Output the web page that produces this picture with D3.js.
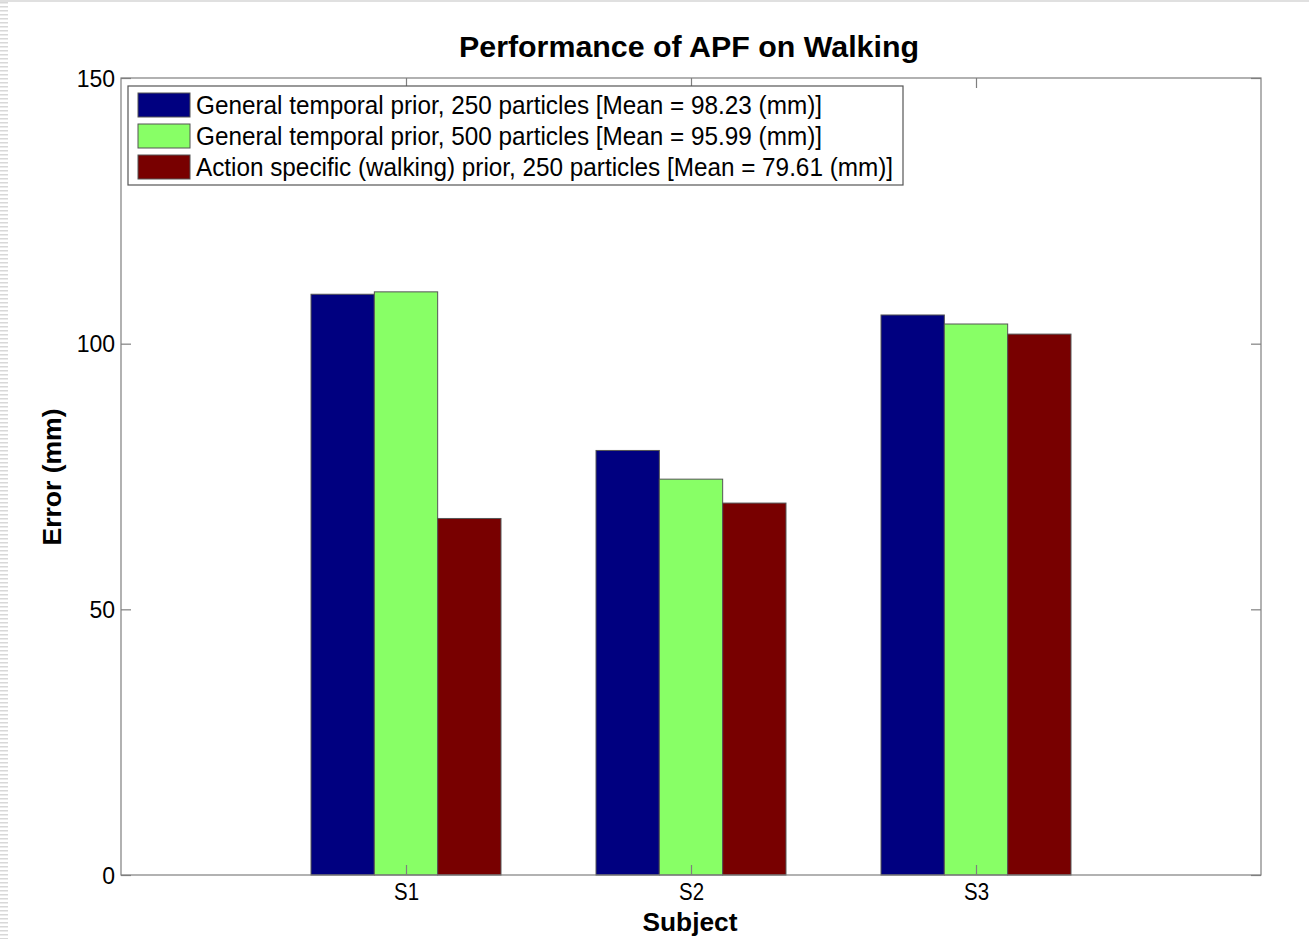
<!DOCTYPE html>
<html><head><meta charset="utf-8">
<script src="https://cdn.jsdelivr.net/npm/d3@7"></script>
<style>body{margin:0;background:#fff}svg{display:block}</style>
</head><body>
<script>
const subjects = ["S1", "S2", "S3"];
const seriesNames = [
  "General temporal prior, 250 particles [Mean = 98.23 (mm)]",
  "General temporal prior, 500 particles [Mean = 95.99 (mm)]",
  "Action specific (walking) prior, 250 particles [Mean = 79.61 (mm)]"
];
const gen250 = [109.3, 79.9, 105.4];
const gen500 = [109.75, 74.5, 103.7];
const walk250 = [67.1, 70.0, 101.8];
const colors = ["#000080", "#88ff66", "#780000"];
const yTicks = [0, 50, 100, 150];

const W = 1309, H = 939;
const m = {l: 121, r: 1261, t: 78, b: 875};
const FONT = "Liberation Sans, Arial, sans-serif";
const svg = d3.select("body").append("svg").attr("width", W).attr("height", H);

// left edge artifact strip
const strip = svg.append("g");
for (let y = 2; y < H; y += 4) strip.append("rect").attr("x", 0).attr("y", y).attr("width", 8).attr("height", 1.5).attr("fill", "#d8d8d8");
svg.append("line").attr("x1", 0).attr("x2", W).attr("y1", 1).attr("y2", 1).attr("stroke", "#e0e0e0").attr("stroke-width", 2);

const x = d3.scaleLinear().domain([0, 4]).range([m.l, m.r]);
const y = d3.scaleLinear().domain([0, 150]).range([m.b, m.t]);
const series = [gen250, gen500, walk250];
const barW = 0.2222;

const g = svg.append("g");
series.forEach((vals, si) => {
  g.selectAll(null).data(vals).enter().append("rect")
    .attr("x", (d, i) => x(i + 1 + (si - 1.5) * barW))
    .attr("width", x(barW) - x(0))
    .attr("y", d => y(d))
    .attr("height", d => y(0) - y(d))
    .attr("fill", colors[si])
    .attr("stroke", "#555").attr("stroke-width", 1);
});

// axes box
const axisColor = "#7f7f7f";
svg.append("rect").attr("x", m.l).attr("y", m.t).attr("width", m.r - m.l).attr("height", m.b - m.t)
  .attr("fill", "none").attr("stroke", axisColor).attr("stroke-width", 1.2);

const yAxisL = d3.axisLeft(y).tickValues(yTicks).tickSize(-10).tickPadding(6).tickFormat(d3.format("d"));
const gyl = svg.append("g").attr("transform", `translate(${m.l},0)`).call(yAxisL);
const yAxisR = d3.axisRight(y).tickValues(yTicks).tickSize(-10).tickFormat("");
const gyr = svg.append("g").attr("transform", `translate(${m.r},0)`).call(yAxisR);
const xAxisB = d3.axisBottom(x).tickValues([1, 2, 3]).tickSize(-10).tickPadding(9).tickFormat((d) => subjects[d - 1]);
const gxb = svg.append("g").attr("transform", `translate(0,${m.b})`).call(xAxisB);
const xAxisT = d3.axisTop(x).tickValues([1, 2, 3]).tickSize(-10).tickFormat("");
const gxt = svg.append("g").attr("transform", `translate(0,${m.t})`).call(xAxisT);
[gyl, gyr, gxb, gxt].forEach(a => {
  a.select(".domain").remove();
  a.selectAll(".tick line").attr("stroke", axisColor).attr("stroke-width", 1.2);
  a.selectAll("text").attr("font-family", FONT).attr("font-size", 23).attr("fill", "#000");
});
gxb.selectAll("text").attr("textLength", 25).attr("lengthAdjust", "spacingAndGlyphs");
gyl.selectAll("text").attr("dy", "0.36em");

// title
svg.append("text").attr("x", 689).attr("y", 57).attr("text-anchor", "middle")
  .attr("font-family", FONT).attr("font-weight", "bold").attr("font-size", 29)
  .attr("textLength", 460).attr("lengthAdjust", "spacingAndGlyphs")
  .text("Performance of APF on Walking");
svg.append("text").attr("x", 690).attr("y", 931).attr("text-anchor", "middle")
  .attr("font-family", FONT).attr("font-weight", "bold").attr("font-size", 26)
  .attr("textLength", 95).attr("lengthAdjust", "spacingAndGlyphs")
  .text("Subject");
svg.append("text").attr("transform", "translate(61,477) rotate(-90)").attr("text-anchor", "middle")
  .attr("font-family", FONT).attr("font-weight", "bold").attr("font-size", 26)
  .attr("textLength", 137).attr("lengthAdjust", "spacingAndGlyphs")
  .text("Error (mm)");

// legend
const legendLens = [626, 626, 697];
const lg = svg.append("g");
lg.append("rect").attr("x", 128).attr("y", 86).attr("width", 775).attr("height", 99)
  .attr("fill", "#fff").attr("stroke", "#555").attr("stroke-width", 1.2);
seriesNames.forEach((name, i) => {
  const yy = 93 + i * 31;
  lg.append("rect").attr("x", 138).attr("y", yy).attr("width", 52).attr("height", 24)
    .attr("fill", colors[i]).attr("stroke", "#555").attr("stroke-width", 1);
  lg.append("text").attr("x", 196).attr("y", yy + 21)
    .attr("font-family", FONT).attr("font-size", 25)
    .attr("textLength", legendLens[i]).attr("lengthAdjust", "spacingAndGlyphs").text(name);
});
</script>
</body></html>
